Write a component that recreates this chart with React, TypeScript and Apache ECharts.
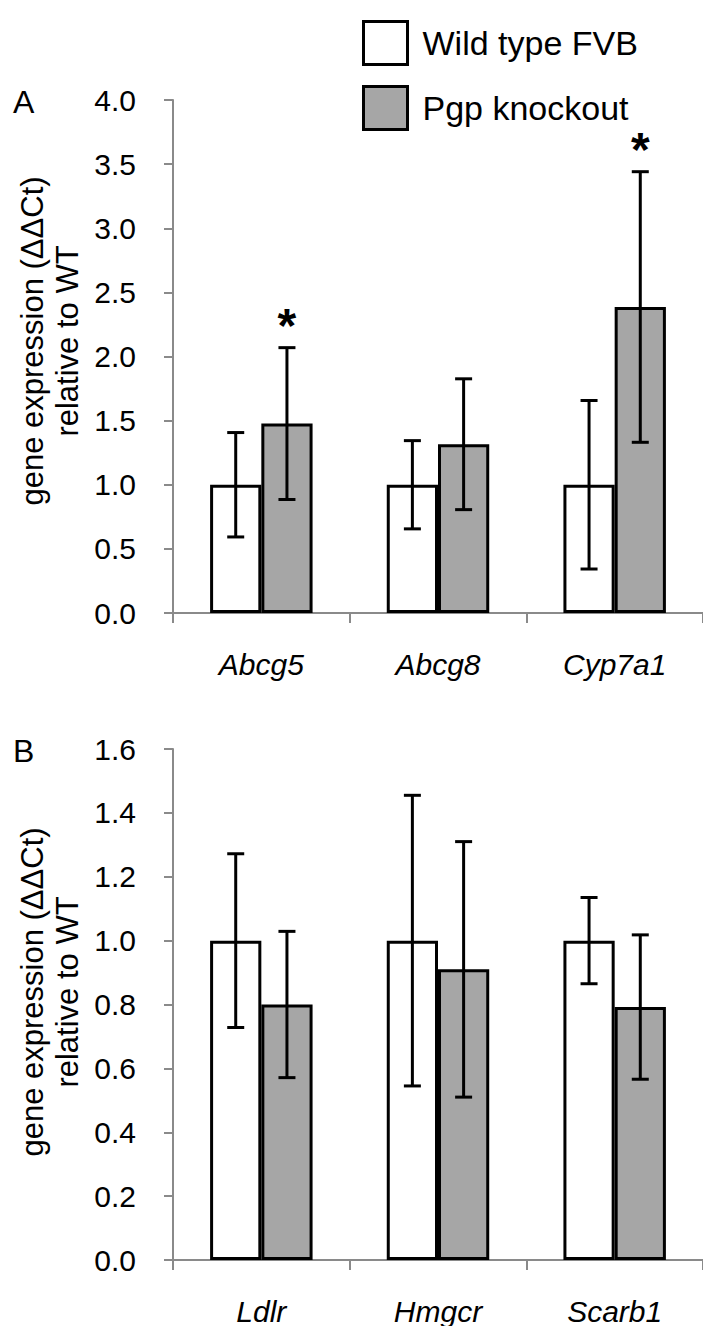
import React, { useEffect, useRef } from "react";
import * as echarts from "echarts";

// Panel A data
const categoriesA = ["Abcg5", "Abcg8", "Cyp7a1"];
const wildTypeA = [1.0, 1.0, 1.0];
const knockoutA = [1.477, 1.316, 2.386];
const wildTypeErrA = [0.407, 0.344, 0.657];
const knockoutErrA = [0.592, 0.51, 1.055];
const significantA = [true, false, true];
const yTicksA = { min: 0, max: 4, interval: 0.5 };

// Panel B data
const categoriesB = ["Ldlr", "Hmgcr", "Scarb1"];
const wildTypeB = [1.0, 1.0, 1.0];
const knockoutB = [0.8, 0.91, 0.792];
const wildTypeErrB = [0.272, 0.455, 0.135];
const knockoutErrB = [0.229, 0.4, 0.226];
const significantB = [false, false, false];
const yTicksB = { min: 0, max: 1.6, interval: 0.2 };

const seriesNames = ["Wild type FVB", "Pgp knockout"];
const yTitleLines = ["gene expression (ΔΔCt)", "relative to WT"];
const panelLetters = ["A", "B"];

const FONT = "Liberation Sans, Arial, Helvetica, sans-serif";
const AXIS_GRAY = "#8a8a8a";
const KO_GRAY = "#a6a6a6";
const HALF_OFFSET = 0.145; // bar centre offset as fraction of category width

function errRender(side: number) {
  return (params: any, api: any) => {
    const c = api.value(0);
    const lo = api.value(1);
    const hi = api.value(2);
    const catW = api.size([1, 0])[0];
    const p0 = api.coord([c, lo]);
    const p1 = api.coord([c, hi]);
    const x = p0[0] + side * catW * HALF_OFFSET;
    const h = 8.5;
    const st = { stroke: "#000", lineWidth: 3 };
    return {
      type: "group",
      children: [
        { type: "line", shape: { x1: x, y1: p0[1], x2: x, y2: p1[1] }, style: st },
        { type: "line", shape: { x1: x - h, y1: p0[1], x2: x + h, y2: p0[1] }, style: st },
        { type: "line", shape: { x1: x - h, y1: p1[1], x2: x + h, y2: p1[1] }, style: st },
      ],
    };
  };
}

function starRender(params: any, api: any) {
  const c = api.value(0);
  const hi = api.value(1);
  const catW = api.size([1, 0])[0];
  const p = api.coord([c, hi]);
  return {
    type: "text",
    x: p[0] + catW * HALF_OFFSET,
    y: p[1] - 22,
    style: {
      text: "*",
      font: `bold 48px ${FONT}`,
      fill: "#000",
      align: "center",
      verticalAlign: "middle",
    },
  };
}

function errData(vals: number[], errs: number[]) {
  return vals.map((v, i) => [i, v - errs[i], v + errs[i]]);
}
function starData(vals: number[], errs: number[], sig: boolean[]) {
  return vals
    .map((v, i) => (sig[i] ? [i, v + errs[i]] : null))
    .filter((d) => d !== null);
}

export default function App() {
  const ref = useRef<HTMLDivElement>(null);
  useEffect(() => {
    if (!ref.current) return;
    const chart = echarts.init(ref.current, undefined, { renderer: "svg" });

    const grids = [
      { left: 173, top: 100, width: 535, height: 513 },
      { left: 173, top: 749, width: 535, height: 513 },
    ];
    const cats = [categoriesA, categoriesB];
    const ticks = [yTicksA, yTicksB];
    const wt = [wildTypeA, wildTypeB];
    const ko = [knockoutA, knockoutB];
    const wtErr = [wildTypeErrA, wildTypeErrB];
    const koErr = [knockoutErrA, knockoutErrB];
    const sig = [significantA, significantB];

    const xAxes = cats.map((c, i) => ({
      type: "category",
      gridIndex: i,
      data: c,
      boundaryGap: true,
      axisLine: { show: true, lineStyle: { color: AXIS_GRAY, width: 2 } },
      axisTick: { show: true, alignWithLabel: false, length: 10, lineStyle: { color: AXIS_GRAY, width: 2 } },
      axisLabel: {
        fontSize: 30,
        fontStyle: "italic",
        fontFamily: FONT,
        color: "#000",
        margin: 36,
      },
      splitLine: { show: false },
    }));
    const yAxes = ticks.map((t, i) => ({
      type: "value",
      gridIndex: i,
      min: t.min,
      max: t.max,
      interval: t.interval,
      axisLine: { show: true, lineStyle: { color: AXIS_GRAY, width: 2 } },
      axisTick: { show: true, inside: false, length: 9, lineStyle: { color: AXIS_GRAY, width: 2 } },
      axisLabel: {
        fontSize: 30,
        fontFamily: FONT,
        color: "#000",
        margin: 37,
        formatter: (v: number) => v.toFixed(1),
      },
      splitLine: { show: false },
    }));

    const series: any[] = [];
    for (let i = 0; i < 2; i++) {
      series.push({
        name: seriesNames[0],
        type: "bar",
        xAxisIndex: i,
        yAxisIndex: i,
        data: wt[i],
        barGap: "0%",
        barCategoryGap: "42%",
        itemStyle: { color: "#fff", borderColor: "#000", borderWidth: 3 },
        z: 3,
      });
      series.push({
        name: seriesNames[1],
        type: "bar",
        xAxisIndex: i,
        yAxisIndex: i,
        data: ko[i],
        barGap: "0%",
        barCategoryGap: "42%",
        itemStyle: { color: KO_GRAY, borderColor: "#000", borderWidth: 3 },
        z: 3,
      });
      series.push({
        type: "custom",
        xAxisIndex: i,
        yAxisIndex: i,
        data: errData(wt[i], wtErr[i]),
        encode: { x: 0, y: [1, 2] },
        renderItem: errRender(-1),
        z: 5,
      });
      series.push({
        type: "custom",
        xAxisIndex: i,
        yAxisIndex: i,
        data: errData(ko[i], koErr[i]),
        encode: { x: 0, y: [1, 2] },
        renderItem: errRender(1),
        z: 5,
      });
      const sd = starData(ko[i], koErr[i], sig[i]);
      if (sd.length) {
        series.push({
          type: "custom",
          xAxisIndex: i,
          yAxisIndex: i,
          data: sd,
          encode: { x: 0, y: 1 },
          renderItem: starRender,
          z: 6,
        });
      }
    }

    const titleCenters = [341, 992];
    const letterCenters = [102, 751];
    const graphic: any[] = [];
    for (let i = 0; i < 2; i++) {
      graphic.push({
        type: "text",
        x: 50,
        y: titleCenters[i],
        rotation: Math.PI / 2,
        style: {
          text: yTitleLines.join("\n"),
          font: `31px ${FONT}`,
          lineHeight: 35,
          fill: "#000",
          align: "center",
          verticalAlign: "middle",
        },
      });
      graphic.push({
        type: "text",
        x: 13,
        y: letterCenters[i],
        style: {
          text: panelLetters[i],
          font: `32px ${FONT}`,
          fill: "#000",
          align: "left",
          verticalAlign: "middle",
        },
      });
    }

    chart.setOption({
      animation: false,
      backgroundColor: "#fff",
      grid: grids,
      xAxis: xAxes,
      yAxis: yAxes,
      legend: {
        data: seriesNames.map((n) => ({ name: n, icon: "rect" })),
        orient: "vertical",
        left: 357,
        top: 15,
        itemWidth: 44,
        itemHeight: 43,
        itemGap: 19,
        selectedMode: false,
        itemStyle: { borderColor: "#000", borderWidth: 3 },
        textStyle: { fontSize: 34, fontFamily: FONT, color: "#000", padding: [0, 0, 0, 10] },
      },
      series,
      graphic,
    });
    return () => chart.dispose();
  }, []);
  return (
    <div
      ref={ref}
      style={{ position: "absolute", left: 0, top: 0, width: 703, height: 1326, background: "#fff" }}
    />
  );
}
